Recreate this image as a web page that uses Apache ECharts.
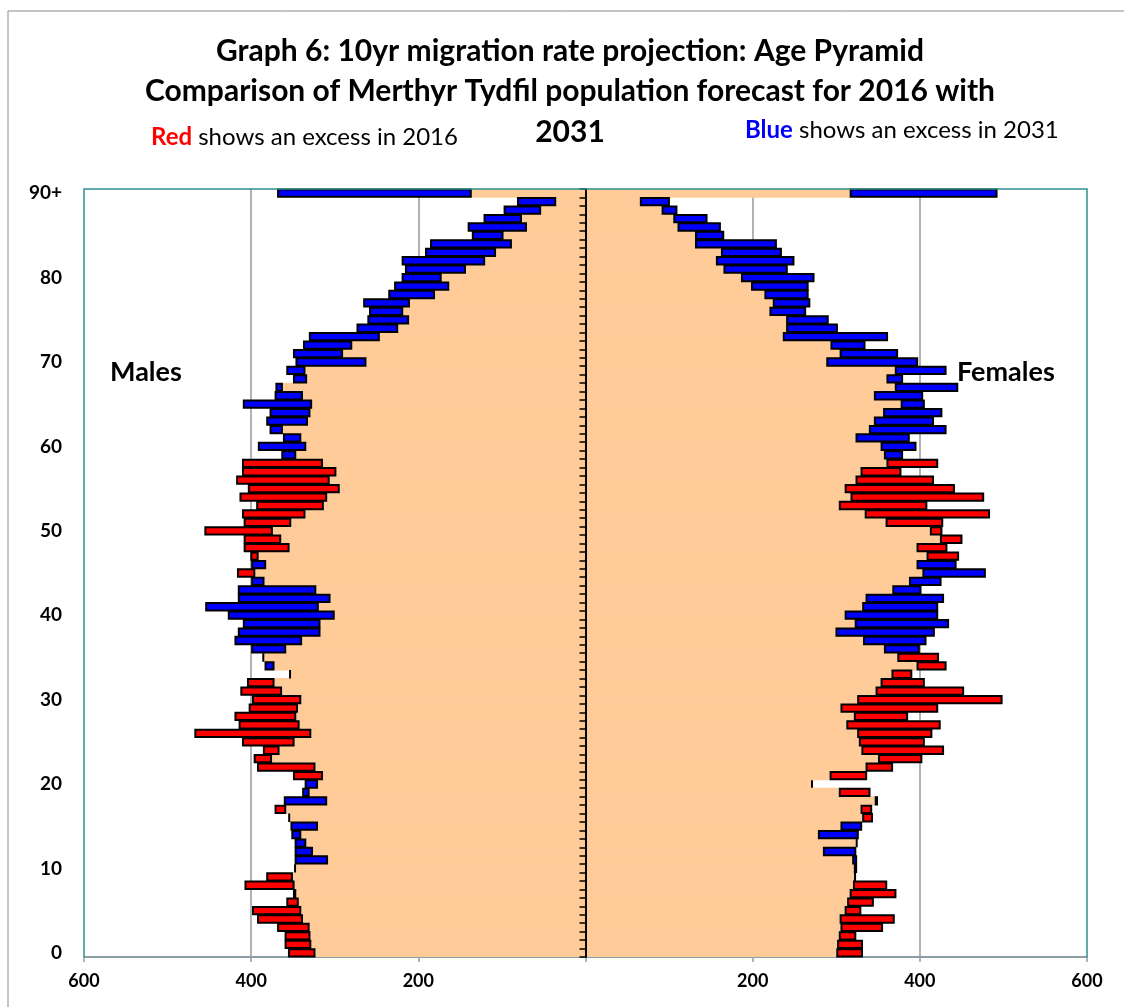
<!DOCTYPE html>
<html>
<head>
<meta charset="utf-8">
<title>Age Pyramid</title>
<script src="https://cdn.jsdelivr.net/npm/echarts@6/dist/echarts.min.js"></script>
<style>
  html, body { margin: 0; padding: 0; background: #fff; }
  #chart { width: 1124px; height: 1007px; }
</style>
</head>
<body>
<div id="chart"></div>
<script>
// ages 0 .. 90+
const ages = [];
for (let a = 0; a <= 90; a++) ages.push(a === 90 ? '90+' : String(a));

// males, 2016 and 2031
const male2016 = [356, 360, 360, 369, 393, 399, 358, 350, 408, 382,
  347, 308, 326, 334, 340, 320, 354, 372, 309, 330,
  320, 350, 393, 397, 386, 411, 468, 415, 420, 403,
  399, 413, 405, 354, 372, 385, 358, 339, 317, 317,
  300, 319, 305, 322, 384, 417, 382, 401, 409, 409,
  456, 409, 411, 394, 414, 404, 418, 411, 411, 346,
  334, 340, 362, 332, 329, 327, 338, 362, 333, 335,
  262, 290, 279, 246, 224, 211, 218, 210, 180, 163,
  172, 143, 120, 107, 88, 98, 70, 76, 53, 35,
  136];
const male2031 = [323, 328, 329, 330, 338, 340, 343, 346, 348, 350,
  348, 348, 348, 348, 352, 353, 355, 358, 361, 339,
  336, 314, 323, 375, 366, 348, 328, 342, 346, 344,
  340, 363, 372, 353, 384, 386, 400, 420, 416, 410,
  428, 455, 416, 416, 400, 395, 400, 391, 354, 364,
  374, 352, 335, 313, 309, 294, 306, 298, 314, 364,
  392, 362, 378, 382, 378, 410, 372, 371, 350, 358,
  347, 350, 338, 331, 274, 261, 259, 266, 236, 229,
  220, 216, 220, 192, 186, 136, 141, 122, 98, 82,
  369];

// females, 2016 and 2031
const female2016 = [332, 332, 324, 356, 370, 330, 345, 372, 361, 322,
  321, 319, 284, 324, 278, 305, 344, 343, 350, 341,
  272, 337, 368, 403, 429, 406, 415, 425, 386, 422,
  499, 453, 406, 391, 432, 423, 357, 332, 299, 322,
  310, 331, 335, 367, 387, 403, 396, 447, 433, 451,
  427, 428, 484, 409, 477, 442, 417, 378, 422, 357,
  353, 323, 339, 345, 356, 377, 345, 370, 360, 370,
  288, 304, 293, 236, 240, 240, 220, 224, 214, 198,
  186, 165, 156, 162, 131, 131, 110, 105, 91, 65,
  316];
const female2031 = [300, 301, 303, 305, 304, 310, 313, 316, 320, 323,
  325, 325, 324, 325, 327, 331, 331, 329, 346, 303,
  270, 292, 335, 350, 330, 327, 325, 312, 321, 305,
  325, 347, 353, 366, 396, 373, 400, 408, 418, 435,
  422, 422, 429, 402, 426, 479, 444, 408, 396, 424,
  412, 359, 334, 303, 317, 310, 323, 329, 360, 380,
  396, 388, 432, 417, 427, 406, 404, 446, 380, 432,
  398, 374, 335, 362, 302, 291, 264, 269, 267, 267,
  274, 242, 250, 235, 229, 166, 162, 146, 110, 101,
  493];

const xTicks = [-600, -400, -200, 0, 200, 400, 600];

const PEACH = '#FFCC99';
const RED = '#FF0000';
const BLUE = '#0000FF';
const FONT = 'Lato, "Open Sans", sans-serif';

// plot area in pixels
const G = { left: 84, top: 189, right: 1087, bottom: 957 };

// build stacked pieces: common part, then excess of 2016 (red) or 2031 (blue)
function pieces(a16, a31, sign) {
  const base = [], red = [], blue = [];
  for (let i = 0; i < a16.length; i++) {
    base.push(sign * Math.min(a16[i], a31[i]));
    red.push(a16[i] > a31[i] ? sign * (a16[i] - a31[i]) : null);
    blue.push(a31[i] > a16[i] ? sign * (a31[i] - a16[i]) : null);
  }
  return { base, red, blue };
}
const m = pieces(male2016, male2031, -1);
const f = pieces(female2016, female2031, 1);

// bars a little thicker than a row so the peach rows join without seams
function bar(name, data, color, edge) {
  return {
    name: name,
    type: 'bar',
    stack: 'all',
    barWidth: 9.3,
    data: data,
    itemStyle: edge
      ? { color: color, borderColor: '#000', borderWidth: 2 }
      : { color: color },
    z: edge ? 3 : 2
  };
}

const chart = echarts.init(document.getElementById('chart'), null, { renderer: 'canvas' });

chart.setOption({
  animation: false,
  backgroundColor: '#fff',
  textStyle: { fontFamily: FONT },
  grid: {
    left: G.left, top: G.top, right: 1124 - G.right, bottom: 1007 - G.bottom,
    containLabel: false
  },
  xAxis: {
    type: 'value',
    min: -600, max: 600, interval: 200,
    axisLine: { show: true, lineStyle: { color: '#8c9ea3', width: 2 } },
    axisTick: { show: true, length: 5, lineStyle: { color: '#8c9ea3', width: 1.5 } },
    axisLabel: {
      margin: 15,
      color: '#000', fontWeight: 'bold', fontSize: 18, fontFamily: FONT,
      formatter: function (v) { return v === 0 ? '' : String(Math.abs(v)); }
    },
    splitLine: {
      show: true,
      lineStyle: {
        width: 1.5,
        color: xTicks.map(function (v) { return (v === 0 || Math.abs(v) === 600) ? 'rgba(0,0,0,0)' : '#9a9a9a'; })
      }
    }
  },
  yAxis: [{
    type: 'category',
    data: ages,
    axisLine: { show: true, onZero: true, lineStyle: { color: '#000', width: 2 } },
    axisTick: { show: true, interval: 0, length: 6, lineStyle: { color: '#000', width: 1.5 } },
    axisLabel: { show: false },
    splitLine: { show: false },
    z: 5
  }, {
    type: 'category',
    data: ages,
    position: 'left',
    axisLine: { show: false, onZero: false },
    axisTick: { show: false },
    splitLine: { show: false },
    axisLabel: {
      margin: 22,
      color: '#000', fontWeight: 'bold', fontSize: 19, fontFamily: FONT,
      interval: function (i) { return i % 10 === 0; }
    }
  }],
  series: [
    bar('Males common', m.base, PEACH, false),
    bar('Males excess 2016', m.red, RED, true),
    bar('Males excess 2031', m.blue, BLUE, true),
    bar('Females common', f.base, PEACH, false),
    bar('Females excess 2016', f.red, RED, true),
    bar('Females excess 2031', f.blue, BLUE, true)
  ],
  graphic: [
    // outer frame
    { type: 'rect', shape: { x: 8, y: 11, width: 1130, height: 1010 },
      style: { fill: 'none', stroke: '#8a8a8a', lineWidth: 1 }, silent: true, z: 0 },
    // plot frame (left, top, right)
    { type: 'polyline', shape: { points: [[G.left, G.bottom], [G.left, G.top], [G.right, G.top], [G.right, G.bottom]] },
      style: { fill: 'none', stroke: '#2f8f8f', lineWidth: 1.5 }, silent: true, z: 10 },
    // title
    { type: 'text', x: 570, y: 51, style: { text: 'Graph 6: 10yr migration rate projection: Age Pyramid',
      font: 'bold 30px ' + FONT, fill: '#000', align: 'center', verticalAlign: 'middle' } },
    { type: 'text', x: 570, y: 91, style: { text: 'Comparison of Merthyr Tydfil population forecast for 2016 with',
      font: 'bold 30px ' + FONT, fill: '#000', align: 'center', verticalAlign: 'middle' } },
    { type: 'text', x: 570, y: 132, style: { text: '2031',
      font: 'bold 30px ' + FONT, fill: '#000', align: 'center', verticalAlign: 'middle' } },
    // colour notes
    { type: 'text', x: 151, y: 137, style: {
      text: '{r|Red} shows an excess in 2016',
      font: '24px ' + FONT, fill: '#000', align: 'left', verticalAlign: 'middle',
      rich: { r: { fill: RED, fontWeight: 'bold', fontSize: 24, fontFamily: FONT } } } },
    { type: 'text', x: 745, y: 130, style: {
      text: '{b|Blue} shows an excess in 2031',
      font: '24px ' + FONT, fill: '#000', align: 'left', verticalAlign: 'middle',
      rich: { b: { fill: BLUE, fontWeight: 'bold', fontSize: 24, fontFamily: FONT } } } },
    // side labels
    { type: 'text', x: 110, y: 372, style: { text: 'Males',
      font: 'bold 27px ' + FONT, fill: '#000', align: 'left', verticalAlign: 'middle' } },
    { type: 'text', x: 957, y: 372, style: { text: 'Females',
      font: 'bold 27px ' + FONT, fill: '#000', align: 'left', verticalAlign: 'middle' } }
  ]
});
</script>
</body>
</html>
